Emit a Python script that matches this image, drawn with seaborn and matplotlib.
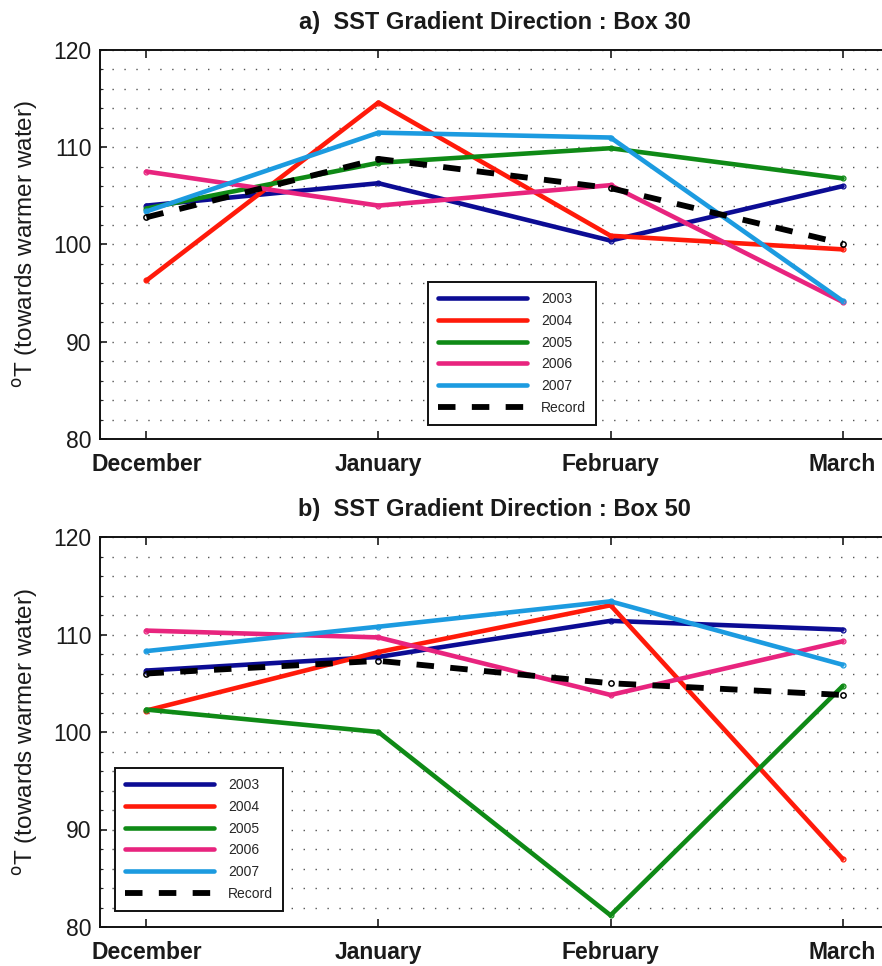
import numpy as np
import pandas as pd
import matplotlib
matplotlib.use("Agg")
import matplotlib.pyplot as plt
from matplotlib.lines import Line2D
from matplotlib.ticker import MultipleLocator
import seaborn as sns

sns.set_theme(style="white")
plt.rcParams["font.family"] = ["Liberation Sans", "DejaVu Sans"]

months = ["December", "January", "February", "March"]
years = ["2003", "2004", "2005", "2006", "2007", "Record"]

# Box 30 gradient direction (degrees True)
box30_2003 = [104.0, 106.3, 100.4, 106.0]
box30_2004 = [96.3, 114.6, 100.9, 99.5]
box30_2005 = [103.7, 108.4, 109.9, 106.8]
box30_2006 = [107.5, 104.0, 106.1, 94.1]
box30_2007 = [103.4, 111.5, 111.0, 94.2]
box30_record = [102.8, 108.8, 105.8, 100.1]

# Box 50 gradient direction (degrees True)
box50_2003 = [106.3, 107.7, 111.4, 110.5]
box50_2004 = [102.2, 108.2, 113.0, 87.0]
box50_2005 = [102.3, 100.0, 81.2, 104.7]
box50_2006 = [110.4, 109.7, 103.8, 109.3]
box50_2007 = [108.3, 110.8, 113.4, 106.9]
box50_record = [106.0, 107.3, 105.0, 103.8]

colors = {
    "2003": "#0c0c94",
    "2004": "#ff1a0a",
    "2005": "#0f8a16",
    "2006": "#e8247e",
    "2007": "#1c9be0",
    "Record": "#000000",
}

panels = [
    ("a)  SST Gradient Direction : Box 30",
     [box30_2003, box30_2004, box30_2005, box30_2006, box30_2007, box30_record],
     [100 / 882, 1 - 439 / 966, 789 / 882, 389 / 966],
     (428 / 882, 1 - 282 / 966)),
    ("b)  SST Gradient Direction : Box 50",
     [box50_2003, box50_2004, box50_2005, box50_2006, box50_2007, box50_record],
     [100 / 882, 1 - 927 / 966, 789 / 882, 390 / 966],
     (115 / 882, 1 - 768 / 966)),
]

fig = plt.figure(figsize=(8.82, 9.66), dpi=100)

for title, series, rect, leg_anchor in panels:
    ax = fig.add_axes(rect)
    frames = []
    for name, vals in zip(years, series):
        frames.append(pd.DataFrame({"x": np.arange(len(months)), "value": vals, "series": name}))
    df = pd.concat(frames, ignore_index=True)

    for name in years:
        sub = df[df["series"] == name]
        if name == "Record":
            sns.lineplot(data=sub, x="x", y="value", ax=ax, color=colors[name],
                         lw=4.2, zorder=4,
                         marker="o", ms=3.8, mfc="none", mec=colors[name], mew=1.1)
            ax.lines[-1].set_dashes((3.0, 2.8))
        else:
            sns.lineplot(data=sub, x="x", y="value", ax=ax, color=colors[name],
                         lw=3.3, zorder=3,
                         marker="o", ms=3.5, mfc="none", mec=colors[name], mew=0.9)

    ax.set_xlim(-0.2, 3.2)
    ax.set_ylim(80, 120)
    ax.set_xticks(range(len(months)))
    ax.set_xticklabels(months, fontsize=16.5, fontweight="bold", color="#1a1a1a")
    ax.yaxis.set_major_locator(MultipleLocator(10))
    ax.yaxis.set_minor_locator(MultipleLocator(2))
    ax.tick_params(axis="y", which="major", labelsize=16.5, direction="in",
                   length=5, width=1.2, left=True, right=True, colors="#1a1a1a", pad=6)
    ax.tick_params(axis="y", which="minor", direction="in", length=2.5, width=0.8,
                   left=True, right=True)
    ax.tick_params(axis="x", which="major", direction="in", length=6, width=1.2,
                   bottom=True, top=True, pad=10, colors="#1a1a1a")
    ax.grid(False)
    ax.grid(True, axis="y", which="both", color="#555555", lw=1.0,
            linestyle=(0, (1, 7.6)))
    for sp in ax.spines.values():
        sp.set_color("#111111")
        sp.set_linewidth(1.4)
    ax.set_xlabel("")
    ax.set_ylabel(r"$^{\mathrm{o}}$T (towards warmer water)", fontsize=17.5,
                  color="#1a1a1a", labelpad=10)
    ax.set_title(title, fontsize=17, fontweight="bold", color="#1a1a1a", pad=15)

    handles = []
    for name in years:
        if name == "Record":
            handles.append(Line2D([], [], color=colors[name], lw=4.2,
                                  linestyle=(0, (3.0, 2.8))))
        else:
            handles.append(Line2D([], [], color=colors[name], lw=3.3))
    leg = ax.legend(handles, years, loc="upper left", bbox_to_anchor=leg_anchor,
                    bbox_transform=fig.transFigure, borderaxespad=0,
                    fontsize=10, handlelength=6.4, handletextpad=1.0,
                    labelspacing=0.56, borderpad=0.72, fancybox=False,
                    frameon=True, framealpha=1, edgecolor="#111111")
    leg.get_frame().set_linewidth(1.4)
    leg.set_zorder(6)

fig.savefig("out.png", dpi=100, facecolor="white")
